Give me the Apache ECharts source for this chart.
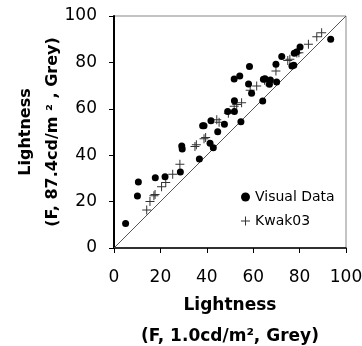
<!DOCTYPE html>
<html>
<head>
<meta charset="utf-8">
<script src="https://cdn.jsdelivr.net/npm/echarts@6/dist/echarts.min.js"></script>
<style>
  html, body { margin: 0; padding: 0; background: #fff; }
  #chart { width: 362px; height: 346px; }
</style>
</head>
<body>
<div id="chart"></div>
<script>
const visualX = [5.0, 10.1, 10.5, 17.8, 22.0, 28.6, 29.2, 29.4, 36.8, 38.2, 38.8, 41.8, 41.4, 42.8, 44.7, 47.6, 49.0, 51.9, 51.9, 51.8, 54.2, 54.7, 58.0, 58.4, 59.3, 64.1, 64.4, 65.1, 67.0, 67.4, 70.1, 69.8, 72.3, 76.7, 77.5, 77.7, 78.7, 80.2, 93.4];
const visualY = [10.6, 22.4, 28.4, 30.3, 30.7, 32.8, 44.0, 42.7, 38.4, 52.7, 52.7, 54.9, 45.1, 43.2, 50.1, 53.3, 58.8, 58.8, 63.5, 72.8, 74.1, 54.4, 70.7, 78.2, 66.7, 63.4, 72.7, 73.0, 70.6, 72.4, 71.6, 79.2, 82.5, 78.4, 78.8, 83.9, 84.5, 86.6, 90.0];

const kwakX = [14.1, 15.5, 17.2, 17.7, 20.5, 22.3, 25.3, 28.4, 34.9, 35.5, 38.8, 39.5, 44.3, 45.3, 49.3, 51.8, 52.9, 55.0, 58.7, 61.5, 64.9, 65.6, 69.8, 74.9, 75.8, 78.8, 79.7, 83.8, 87.4, 89.5];
const kwakY = [16.4, 20.0, 22.5, 23.1, 26.4, 28.2, 31.8, 36.1, 43.7, 44.5, 47.1, 47.6, 55.3, 54.2, 58.1, 61.1, 61.9, 62.6, 68.0, 69.8, 72.3, 71.7, 76.3, 80.8, 81.4, 84.1, 84.2, 87.8, 91.1, 92.8];

const identityLine = [[0, 0], [100, 100]];

const plusPath = "path://M4,0L5,0L5,4L9,4L9,5L5,5L5,9L4,9L4,5L0,5L0,4L4,4Z";
const font = "DejaVu Sans";

const chart = echarts.init(document.getElementById("chart"), null, { renderer: "canvas" });

const option = {
  animation: false,
  backgroundColor: "#fff",
  grid: {
    left: 114,
    right: 16,
    top: 16,
    bottom: 98,
    outerBoundsMode: "none",
    containLabel: false,
    show: true,
    borderColor: "#888",
    borderWidth: 1,
  },
  legend: {
    orient: "vertical",
    left: 236,
    top: 185,
    itemWidth: 9,
    itemHeight: 9,
    itemGap: 10,
    itemTextGap: 8,
    textStyle: { fontFamily: font, fontSize: 14, color: "#000" },
    data: [
      { name: "Visual Data", icon: "circle" },
      { name: "Kwak03", icon: plusPath },
    ],
  },
  xAxis: {
    type: "value",
    min: 0,
    max: 100,
    interval: 20,
    name: "Lightness\n(F, 1.0cd/m², Grey)",
    nameLocation: "middle",
    nameGap: 42,
    nameMoveOverlap: false,
    nameTextStyle: {
      fontFamily: font,
      fontSize: 17,
      fontWeight: "bold",
      color: "#000",
      lineHeight: 31,
    },
    splitLine: { show: false },
    axisLine: { lineStyle: { color: "#000", width: 1.5 } },
    axisTick: { show: true, inside: false, length: 5, lineStyle: { color: "#000" } },
    axisLabel: { fontFamily: font, fontSize: 17, color: "#000", margin: 21 },
  },
  yAxis: {
    type: "value",
    min: 0,
    max: 100,
    interval: 20,
    name: "Lightness\n(F, 87.4cd/m ² , Grey)",
    nameLocation: "middle",
    nameRotate: 90,
    nameGap: 48,
    nameMoveOverlap: false,
    nameTextStyle: {
      fontFamily: font,
      fontSize: 16,
      fontWeight: "bold",
      color: "#000",
      lineHeight: 27,
    },
    splitLine: { show: false },
    axisLine: { lineStyle: { color: "#000", width: 2 } },
    axisTick: { show: true, inside: false, length: 5, lineStyle: { color: "#000" } },
    axisLabel: { fontFamily: font, fontSize: 17, color: "#000", margin: 17 },
  },
  series: [
    {
      name: "identity",
      type: "line",
      data: identityLine,
      symbol: "none",
      silent: true,
      lineStyle: { color: "#555", width: 1 },
      z: 1,
    },
    {
      name: "Visual Data",
      type: "scatter",
      symbol: "circle",
      symbolSize: 7,
      itemStyle: { color: "#000", opacity: 1 },
      data: visualX.map((x, i) => [x, visualY[i]]),
      z: 3,
    },
    {
      name: "Kwak03",
      type: "scatter",
      symbol: plusPath,
      symbolSize: 9,
      itemStyle: { color: "#333", opacity: 1 },
      data: kwakX.map((x, i) => [x, kwakY[i]]),
      z: 2,
    },
  ],
};

chart.setOption(option);
</script>
</body>
</html>
